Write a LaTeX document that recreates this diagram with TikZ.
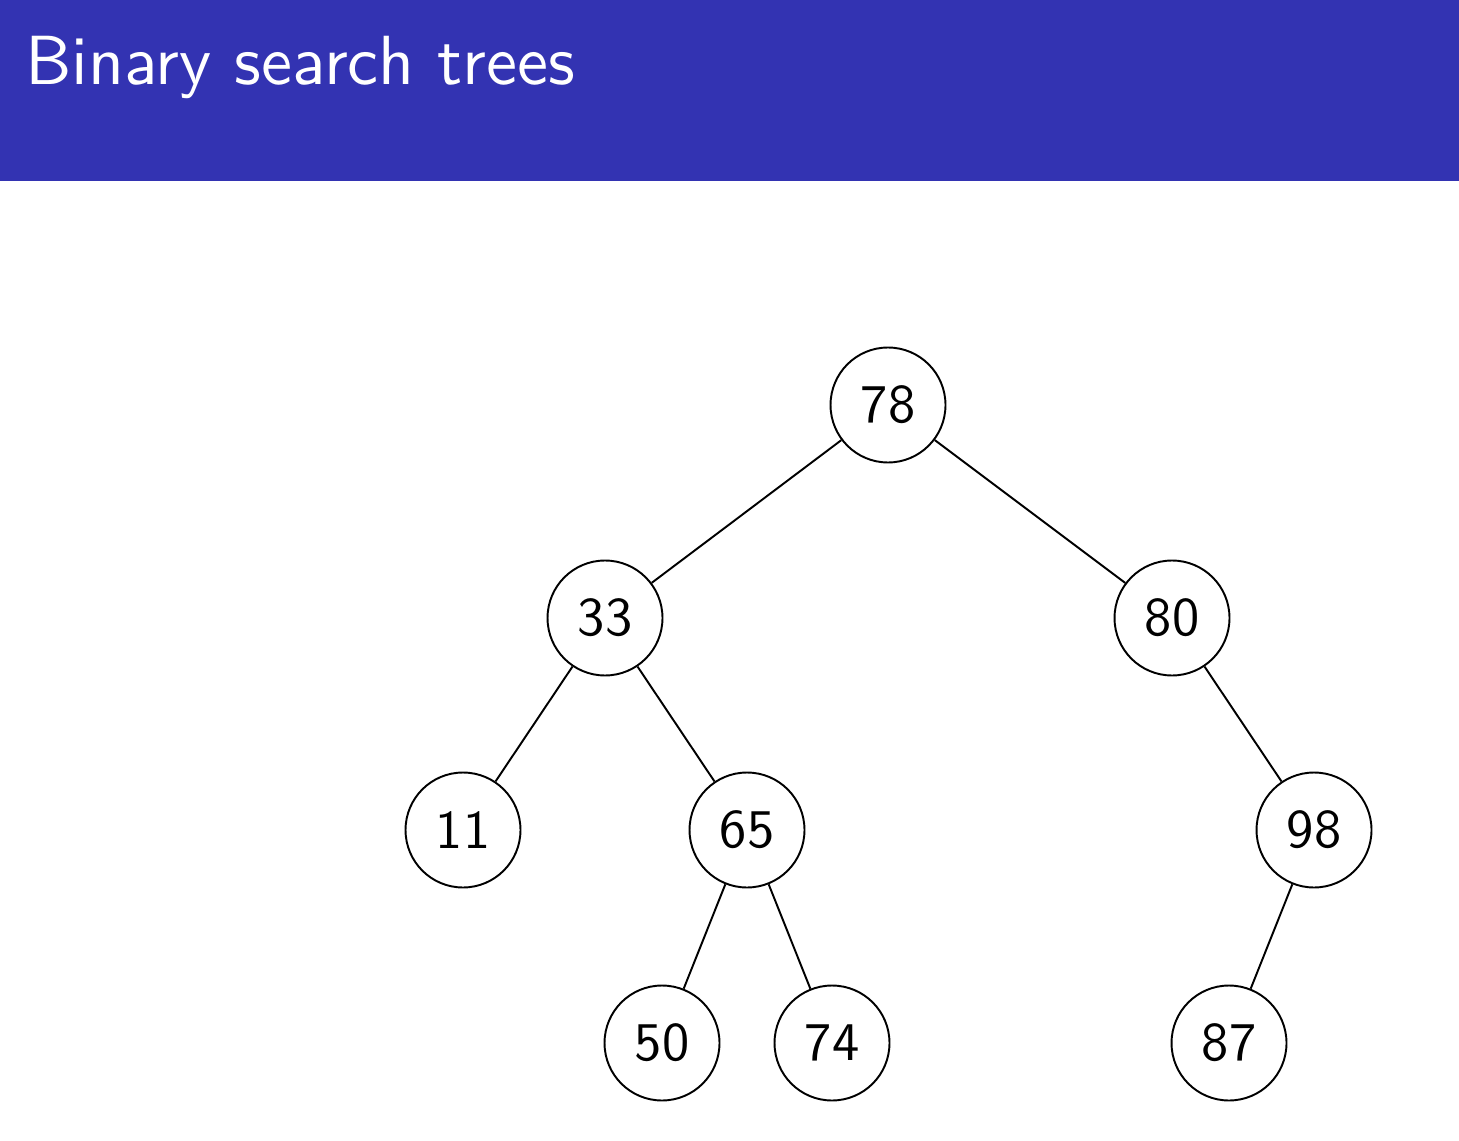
\documentclass[tikz,border=0pt]{standalone}
\usepackage{fontspec}
\newfontfamily\titlefont{lmsans10-regular.otf}
\begin{document}
\begin{tikzpicture}[x=0.02cm,y=-0.02cm,
  bst/.style={circle,draw=black,line width=1.1pt,minimum size=2.3cm,inner sep=0pt,
    font=\titlefont\fontsize{31}{31}\selectfont},
  edge/.style={line width=1.1pt,draw=black}]
\definecolor{beamerblue}{RGB}{51,51,178}
\useasboundingbox (0,0) rectangle (1459,1141);
\fill[beamerblue] (0,0) rectangle (1459,181);
\node[anchor=base west,inner sep=0pt,text=white,font=\titlefont\fontsize{39.6}{40}\selectfont] (title) at (25,85) {Binary search trees};
\node[bst] (n78) at (888,405) {78};
\node[bst] (n33) at (605,618) {33};
\node[bst] (n80) at (1172,618) {80};
\node[bst] (n11) at (463,830) {11};
\node[bst] (n65) at (747,830) {65};
\node[bst] (n98) at (1314,830) {98};
\node[bst] (n50) at (662,1043) {50};
\node[bst] (n74) at (832,1043) {74};
\node[bst] (n87) at (1229,1043) {87};
\draw[edge] (n78) -- (n33);
\draw[edge] (n78) -- (n80);
\draw[edge] (n33) -- (n11);
\draw[edge] (n33) -- (n65);
\draw[edge] (n65) -- (n50);
\draw[edge] (n65) -- (n74);
\draw[edge] (n80) -- (n98);
\draw[edge] (n98) -- (n87);
\end{tikzpicture}
\end{document}
